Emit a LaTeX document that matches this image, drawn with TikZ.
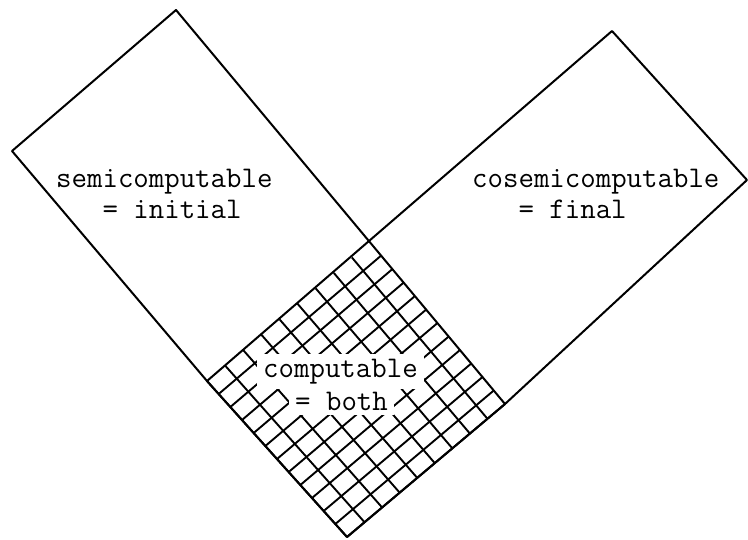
\documentclass[tikz,border=0pt]{standalone}
\usetikzlibrary{calc}
\begin{document}
\begin{tikzpicture}[x=1pt,y=-1pt,
  outline/.style={line width=2pt, line join=round},
  hatch/.style={line width=1.9pt},
  txt/.style={font=\ttfamily\fontsize{30}{31}\selectfont, inner sep=0pt, anchor=base west},
  knockout/.style={fill=white, inner xsep=6pt, inner ysep=5pt}]
\useasboundingbox (0,0) rectangle (748,539);

% corners of the overlap square
\coordinate (T) at (370,242);
\coordinate (L) at (207,381);
\coordinate (B) at (347,537);
\coordinate (R) at (505,404);
% outer corners of the two strips
\coordinate (lt) at (176,10);
\coordinate (ll) at (12,151);
\coordinate (rt) at (612,31);
\coordinate (rr) at (747,180);

% cross-hatching of the overlap
\foreach \i in {1,...,8}
  \draw[hatch] ($(T)!\i/9!(L)$) -- ($(R)!\i/9!(B)$);
\foreach \j in {1,...,11}
  \draw[hatch] ($(T)!\j/12!(R)$) -- ($(L)!\j/12!(B)$);

% labels
\node[txt] (semiA) at (56,187) {semicomputable};
\node[txt] (semiB) at (56,218) {\hphantom{sem}= initial};
\node[txt] (cosemiA) at (472,187) {cosemicomputable};
\node[txt] (cosemiB) at (472,218) {\hphantom{cos}= final};
\node[txt, knockout] (compA) at (257,377) {computable};
\node[txt, knockout] (compB) at (289,410) {= both};

% the two strips, meeting in the square
\draw[outline] (lt) -- (ll) -- (L) -- (B) -- (R) -- cycle;
\draw[outline] (rt) -- (rr) -- (R) -- (B) -- (L) -- cycle;
\end{tikzpicture}
\end{document}
